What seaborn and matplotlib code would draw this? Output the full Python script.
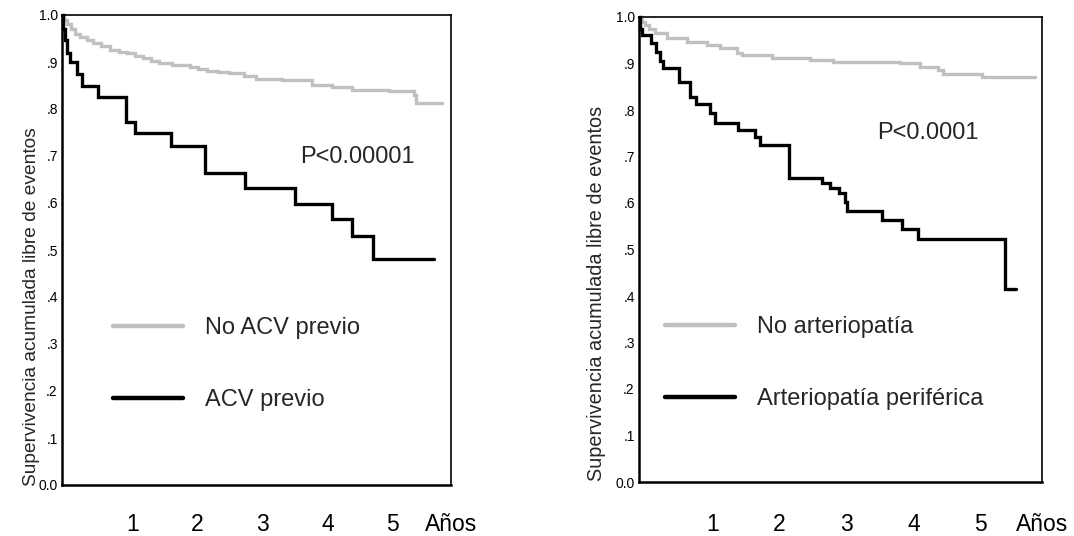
import numpy as np
import pandas as pd
import matplotlib
matplotlib.use("Agg")
import matplotlib.pyplot as plt
import seaborn as sns
from matplotlib.lines import Line2D
from matplotlib.transforms import ScaledTranslation

# ---------------- data ----------------
left_gray_t = [0, 0.03, 0.08, 0.14, 0.2, 0.28, 0.38, 0.48, 0.6, 0.74, 0.88, 1.0, 1.12, 1.25,
               1.38, 1.5, 1.7, 1.97, 2.1, 2.23, 2.4, 2.58, 2.8, 3.0, 3.4, 3.86, 4.17, 4.48,
               5.05, 5.43, 5.46, 5.86]
left_gray_s = [1.0, 0.99, 0.98, 0.97, 0.96, 0.953, 0.946, 0.94, 0.933, 0.925, 0.922, 0.919,
               0.913, 0.908, 0.902, 0.897, 0.893, 0.889, 0.885, 0.881, 0.879, 0.877, 0.870,
               0.864, 0.862, 0.851, 0.847, 0.840, 0.838, 0.830, 0.813, 0.813]
left_black_t = [0, 0.02, 0.05, 0.08, 0.12, 0.23, 0.31, 0.55, 0.985, 1.12, 1.68, 2.2, 2.83,
                3.6, 4.17, 4.48, 4.8, 5.74]
left_black_s = [1.0, 0.97, 0.947, 0.92, 0.90, 0.875, 0.849, 0.825, 0.773, 0.749, 0.721,
                0.663, 0.631, 0.598, 0.565, 0.53, 0.481, 0.481]

right_gray_t = [0, 0.05, 0.09, 0.15, 0.24, 0.42, 0.71, 1.01, 1.2, 1.46, 1.53, 1.98, 2.55,
                2.89, 3.88, 4.18, 4.45, 4.52, 5.1, 5.9]
right_gray_s = [1.0, 0.99, 0.983, 0.975, 0.966, 0.955, 0.946, 0.94, 0.933, 0.923, 0.918,
                0.911, 0.908, 0.903, 0.901, 0.893, 0.885, 0.877, 0.871, 0.871]
right_black_t = [0, 0.02, 0.04, 0.18, 0.25, 0.32, 0.36, 0.59, 0.76, 0.85, 1.05, 1.13, 1.48,
                 1.72, 1.8, 2.24, 2.72, 2.84, 2.98, 3.06, 3.1, 3.62, 3.92, 4.16, 5.45, 5.62]
right_black_s = [1.0, 0.975, 0.961, 0.944, 0.925, 0.905, 0.89, 0.86, 0.828, 0.813, 0.793,
                 0.772, 0.757, 0.742, 0.725, 0.654, 0.643, 0.632, 0.621, 0.602, 0.583,
                 0.563, 0.544, 0.523, 0.415, 0.415]

left_groups = ["No ACV previo", "ACV previo"]
right_groups = ["No arteriopatía", "Arteriopatía periférica"]
left_p = "P<0.00001"
right_p = "P<0.0001"
x_ticklabels = ["", "1", "2", "3", "4", "5", "Años"]
y_ticklabels = ["0.0", ".1", ".2", ".3", ".4", ".5", ".6", ".7", ".8", ".9", "1.0"]
ylabel = "Supervivencia acumulada libre de eventos"

GRAY = "#c0c0c0"
BLACK = "#000000"

sns.set_style("white")
plt.rcParams["font.family"] = ["Liberation Sans", "DejaVu Sans"]

fig = plt.figure(figsize=(10.74, 5.36), dpi=100)
axL = fig.add_axes([62 / 1074, 1 - 485 / 536, 389 / 1074, 470 / 536])
axR = fig.add_axes([639 / 1074, 1 - 482 / 536, 403 / 1074, 465 / 536])


def make_df(t1, s1, t2, s2, groups):
    d1 = pd.DataFrame({"t": t1, "s": s1, "g": groups[0]})
    d2 = pd.DataFrame({"t": t2, "s": s2, "g": groups[1]})
    return pd.concat([d1, d2], ignore_index=True)


def panel(ax, df, groups, ptxt, ppos, leg_anchor, ylab_coords, ylab_size, xpad):
    sns.lineplot(data=df, x="t", y="s", hue="g", hue_order=groups,
                 palette={groups[0]: GRAY, groups[1]: BLACK},
                 drawstyle="steps-post", estimator=None, sort=False,
                 linewidth=2.4, legend=False, ax=ax)
    for ln in ax.lines:
        ln.set_clip_on(False)
        ln.set_solid_joinstyle("miter")
    ax.set_xlim(0, 6)
    ax.set_ylim(0, 1)
    ax.set_xticks(range(7))
    ax.set_xticklabels(x_ticklabels, fontsize=16.5)
    ax.set_yticks(np.linspace(0, 1, 11))
    ax.set_yticklabels(y_ticklabels, fontsize=10)
    ax.tick_params(axis="x", direction="out", length=2.5, width=2.5, pad=xpad, colors="black")
    ax.tick_params(axis="y", direction="out", length=2.5, width=2.5, pad=0.5, colors="black")
    for sp in ax.spines.values():
        sp.set_visible(True)
        sp.set_color("black")
        sp.set_linewidth(1.2)
    ax.spines["left"].set_linewidth(1.8)
    ax.spines["bottom"].set_linewidth(1.8)
    ax.set_xlabel("")
    ax.set_ylabel(ylabel, fontsize=ylab_size)
    ax.yaxis.set_label_coords(*ylab_coords)
    ax.text(ppos[0], ppos[1], ptxt, transform=ax.transAxes, fontsize=17,
            ha="left", va="center")
    handles = [Line2D([], [], color=GRAY, lw=3.2), Line2D([], [], color=BLACK, lw=3.2)]
    ax.legend(handles, groups, loc="center left", bbox_to_anchor=leg_anchor,
              frameon=False, fontsize=17, handlelength=2.97, handletextpad=0.93,
              labelspacing=2.12, borderpad=0, borderaxespad=0)
    # digits sit slightly right of their tick marks in the reference
    shift = ScaledTranslation(6 / 100, 0, fig.dpi_scale_trans)
    for lab in ax.get_xticklabels()[1:6]:
        lab.set_transform(lab.get_transform() + shift)


panel(axL, make_df(left_gray_t, left_gray_s, left_black_t, left_black_s, left_groups),
      left_groups, left_p, (0.612, 0.698), (0.131, 0.2575), (-0.057, 0.379), 13.8, 17.5)
panel(axR, make_df(right_gray_t, right_gray_s, right_black_t, right_black_s, right_groups),
      right_groups, right_p, (0.591, 0.751), (0.0645, 0.2555), (-0.082, 0.406), 14.3, 20)

fig.savefig("out.png", dpi=100, facecolor="white")
